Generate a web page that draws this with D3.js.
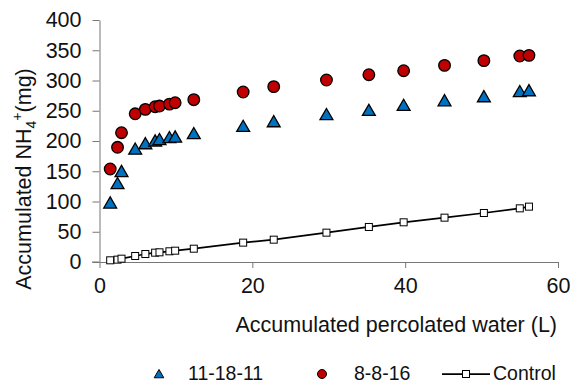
<!DOCTYPE html>
<html><head><meta charset="utf-8">
<script src="https://cdn.jsdelivr.net/npm/d3@7"></script>
<style>body{margin:0;background:#fff}svg{display:block;font-family:Arial,"Liberation Sans",sans-serif}</style>
</head><body><svg id="c" width="573" height="383"></svg>
<script>
const water = [1.4,2.36,2.88,4.67,6.0,7.28,7.85,9.15,9.9,12.34,18.8,22.8,29.7,35.25,39.8,45.15,50.3,55.0,56.2];
const s111811 = [97,129,149,186,195,199.5,201.7,205,206,211.6,223.7,231.4,243,250,258.4,266,272.7,281,282.6];
const s8816 = [153.7,189.6,213.7,245,252.3,256.7,257.8,261,263.3,268.3,281,289.8,300.8,309.6,316.2,325,332.8,340.5,341.6];
const control = [2.8,3.9,5.5,9.9,13.2,15.4,16,17.7,18.7,22,32,36.9,48.5,57.9,65.6,73.3,81,88.7,91.5];
const xTicks = [0,20,40,60];
const yTicks = [0,50,100,150,200,250,300,350,400];
const seriesNames = ["11-18-11","8-8-16","Control"];

const svg = d3.select("#c");
const x = d3.scaleLinear().domain([0,60]).range([99.5,558]);
const y = d3.scaleLinear().domain([0,400]).range([262,20]);

const xAxis = svg.append("g").attr("transform","translate(0,262)")
  .call(d3.axisBottom(x).tickValues(xTicks).tickSize(6).tickPadding(10).tickSizeOuter(0));
const yAxis = svg.append("g").attr("transform","translate(99.5,0)")
  .call(d3.axisLeft(y).tickValues(yTicks).tickSize(7).tickPadding(11).tickSizeOuter(0));
[xAxis,yAxis].forEach(a=>{
  a.selectAll("path,line").attr("stroke","#777").attr("stroke-width",1);
  a.selectAll("text").attr("font-size",21.5).attr("fill","#111").attr("font-family","Arial, Liberation Sans, sans-serif");
});
svg.append("line").attr("x1",92).attr("x2",99.5).attr("y1",262).attr("y2",262).attr("stroke","#777");

svg.append("text").attr("x",557).attr("y",332).attr("text-anchor","end").attr("font-size",21.5).attr("fill","#111")
  .text("Accumulated percolated water (L)");
const yl = svg.append("text").attr("transform","translate(31,179) rotate(-90)").attr("text-anchor","middle")
  .attr("font-size",21.5).attr("fill","#111");
yl.append("tspan").text("Accumulated NH");
yl.append("tspan").attr("font-size",14).attr("dy",5).text("4");
yl.append("tspan").attr("font-size",14).attr("dy",-14).text("+");
yl.append("tspan").attr("dy",9).text("(mg)");

const pts = water.map((w,i)=>({w,c:control[i],a:s111811[i],b:s8816[i]}));
svg.append("path").datum(pts).attr("fill","none").attr("stroke","#000").attr("stroke-width",1.75)
  .attr("d",d3.line().x(d=>x(d.w)).y(d=>y(d.c)));
svg.selectAll(".sq").data(pts).join("rect").attr("x",d=>x(d.w)-3.5).attr("y",d=>y(d.c)-3.5)
  .attr("width",7).attr("height",7).attr("fill","#fff").attr("stroke","#000").attr("stroke-width",1);

const tri = d3.symbol().type(d3.symbolTriangle).size(72);
svg.selectAll(".tr").data(pts).join("path").attr("d",tri)
  .attr("transform",d=>`translate(${x(d.w)},${y(d.a)+1})`).attr("fill","#0070C0").attr("stroke","#000").attr("stroke-width",1.3);
svg.selectAll(".ci").data(pts).join("circle").attr("cx",d=>x(d.w)).attr("cy",d=>y(d.b)).attr("r",5.8)
  .attr("fill","#C00000").attr("stroke","#000").attr("stroke-width",1.3);

const lg = svg.append("g");
lg.append("path").attr("d",d3.symbol().type(d3.symbolTriangle).size(40)).attr("transform","translate(159,375)")
  .attr("fill","#0070C0").attr("stroke","#000").attr("stroke-width",1);
lg.append("text").attr("x",188).attr("y",380).attr("font-size",19.5).attr("fill","#111").text(seriesNames[0]);
lg.append("circle").attr("cx",322).attr("cy",374).attr("r",4.5).attr("fill","#C00000").attr("stroke","#000").attr("stroke-width",1);
lg.append("text").attr("x",354).attr("y",380).attr("font-size",19.5).attr("fill","#111").text(seriesNames[1]);
lg.append("line").attr("x1",442).attr("x2",490).attr("y1",374).attr("y2",374).attr("stroke","#000").attr("stroke-width",1.75);
lg.append("rect").attr("x",462.5).attr("y",370.5).attr("width",7).attr("height",7).attr("fill","#fff").attr("stroke","#000");
lg.append("text").attr("x",493).attr("y",380).attr("font-size",19.5).attr("fill","#111").text(seriesNames[2]);
</script></body></html>
